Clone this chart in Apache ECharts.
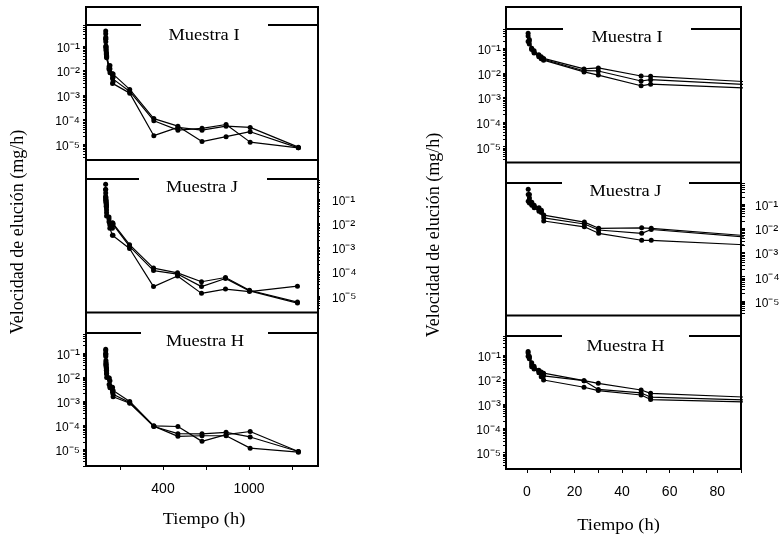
<!DOCTYPE html>
<html><head><meta charset="utf-8">
<script src="https://cdn.jsdelivr.net/npm/echarts@6/dist/echarts.min.js"></script>
<style>html,body{margin:0;padding:0;background:#fff}#c{width:784px;height:537px}</style>
</head><body><div id="c"></div>
<script>
// ---------- DATA ----------
const times = [0.5, 1, 2, 3, 5, 6, 7, 24, 30, 48, 52, 168, 336, 504, 672, 840, 1008, 1344];

const muestraI_1 = [0.41, 0.20, 0.10, 0.080, 0.055, 0.045, 0.039, 0.0145, 0.016, 0.0075, 0.0073, 1.7e-3, 1.1e-4, 5.4e-5, 1.26e-5, 2.0e-5, 3.2e-5, 7.0e-6];
const muestraI_2 = [0.32, 0.23, 0.095, 0.070, 0.050, 0.042, 0.036, 0.0123, 0.012, 0.0047, 0.0053, 1.4e-3, 9.0e-5, 3.7e-5, 4.4e-5, 6.3e-5, 1.2e-5, 7.0e-6];
const muestraI_3 = [0.19, 0.15, 0.090, 0.065, 0.045, 0.038, 0.033, 0.011, 0.0082, 0.0030, 0.0035, 1.2e-3, 2.2e-5, 4.8e-5, 3.7e-5, 5.4e-5, 4.8e-5, 7.5e-6];

const muestraJ_1 = [0.41, 0.25, 0.12, 0.090, 0.070, 0.055, 0.035, 0.018, 0.010, 0.0105, 0.010, 1.3e-3, 1.4e-4, 8.9e-5, 3.8e-5, 5.7e-5, 1.7e-5, 5.5e-6];
const muestraJ_2 = [0.25, 0.18, 0.10, 0.080, 0.060, 0.050, 0.027, 0.015, 0.0085, 0.0062, 0.0089, 1.1e-3, 1.1e-4, 7.9e-5, 2.4e-5, 5.2e-5, 1.6e-5, 5.0e-6];
const muestraJ_3 = [0.13, 0.11, 0.090, 0.070, 0.050, 0.045, 0.020, 0.0115, 0.0062, 0.0032, 0.0032, 9.0e-4, 2.4e-5, 6.6e-5, 1.26e-5, 1.9e-5, 1.5e-5, 2.5e-5];

const muestraH_1 = [0.14, 0.090, 0.048, 0.035, 0.024, 0.020, 0.018, 0.0089, 0.0069, 0.0037, 0.0027, 9.5e-4, 9.3e-5, 8.7e-5, 2.1e-5, 4.0e-5, 5.4e-5, 8.0e-6];
const muestraH_2 = [0.12, 0.080, 0.040, 0.030, 0.022, 0.018, 0.014, 0.0089, 0.0039, 0.0028, 0.0019, 8.5e-4, 8.7e-5, 4.4e-5, 4.3e-5, 5.0e-5, 3.2e-5, 8.0e-6];
const muestraH_3 = [0.090, 0.070, 0.033, 0.027, 0.019, 0.013, 0.0095, 0.0048, 0.0035, 0.0023, 0.0015, 8.0e-4, 9.0e-5, 3.4e-5, 3.6e-5, 3.6e-5, 1.1e-5, 7.5e-6];

const panelTitles = ['Muestra I', 'Muestra J', 'Muestra H'];
const yTickValues = [1e-5, 1e-4, 1e-3, 1e-2, 1e-1];
const leftXTicks = [100, 400, 700, 1000, 1300];
const leftXLabels = [400, 1000];
const rightXTicks = [0, 10, 20, 30, 40, 50, 60, 70, 80, 90];
const rightXLabels = [0, 20, 40, 60, 80];
const yAxisTitle = 'Velocidad de elución (mg/h)';
const xAxisTitle = 'Tiempo (h)';

// ---------- LAYOUT ----------
const SANS = "'Liberation Sans', Arial, sans-serif";
const SERIF = "'Liberation Serif', 'Times New Roman', serif";
const sampleSeries = [[muestraI_1, muestraI_2, muestraI_3], [muestraJ_1, muestraJ_2, muestraJ_3], [muestraH_1, muestraH_2, muestraH_3]];
const SUP = {'-': '\u207B', '0': '\u2070', '1': '\u00B9', '2': '\u00B2', '3': '\u00B3', '4': '\u2074', '5': '\u2075', '6': '\u2076'};
const supText = s => String(s).split('').map(ch => SUP[ch] || ch).join('');

const minorVals = [];
for (let k = -6; k <= 0; k++) for (let m = 2; m <= 9; m++) minorVals.push(m * Math.pow(10, k));

const cols = [
  {xMin: -137, xMax: 1481, xTicks: leftXTicks, xLabels: leftXLabels, x0: 86, x1: 318, yTop: 7, yBottom: 466, seps: [160, 312.5],
   tlines: [{y: 25, g: [141, 268]}, {y: 179, g: [139, 267]}, {y: 333, g: [141, 268]}],
   titles: [[204, 35.5], [202, 188], [205, 341.7]], yName: [18, 232], xName: [204, 520]},
  {xMin: -8.8, xMax: 90, xTicks: rightXTicks, xLabels: rightXLabels, x0: 506, x1: 741, yTop: 7, yBottom: 469, seps: [162.5, 315.5],
   tlines: [{y: 29, g: [563, 691]}, {y: 183, g: [562, 689]}, {y: 336, g: [562, 689]}],
   titles: [[627, 38], [625.5, 191.7], [625.5, 346.7]], yName: [434, 235], xName: [618.5, 526]}
];
const panels = [
  {col: 0, row: 0, left: 86, top: 25, width: 232, height: 135, eTop: -0.14, eBot: -5.65, side: 'left', margin: 6},
  {col: 0, row: 1, left: 86, top: 179, width: 231, height: 133, eTop: -0.17, eBot: -5.67, side: 'right', margin: 15},
  {col: 0, row: 2, left: 86, top: 333, width: 232, height: 133, eTop: -0.18, eBot: -5.70, side: 'left', margin: 6},
  {col: 1, row: 0, left: 506, top: 29, width: 235, height: 133, eTop: -0.215, eBot: -5.62, side: 'left', margin: 5},
  {col: 1, row: 1, left: 506, top: 183, width: 236, height: 132, eTop: -0.13, eBot: -5.58, side: 'right', margin: 13},
  {col: 1, row: 2, left: 506, top: 336, width: 235, height: 133, eTop: -0.22, eBot: -5.67, side: 'left', margin: 5}
];

const grids = [], xAxes = [], yAxes = [], series = [], graphics = [];
const black = '#000';
panels.forEach((p, i) => {
  const c = cols[p.col];
  const showX = p.row === 2;
  grids.push({left: p.left, top: p.top, width: p.width, height: p.height});
  xAxes.push({
    type: 'value', gridIndex: i, min: c.xMin, max: c.xMax, position: 'bottom',
    axisLine: {show: false, onZero: false}, splitLine: {show: false},
    axisTick: {show: showX, length: 4, customValues: c.xTicks, lineStyle: {color: black, width: 1}},
    axisLabel: {show: showX, customValues: c.xLabels, formatter: v => String(v), margin: 16, fontSize: 14, fontFamily: SANS, color: black}
  });
  const ymin = Math.pow(10, p.eBot), ymax = Math.pow(10, p.eTop);
  const tickVals = yTickValues.concat(minorVals.filter(v => v > ymin && v < ymax)).sort((a, b) => a - b);
  yAxes.push({
    type: 'log', logBase: 10, gridIndex: i, position: p.side, min: ymin, max: ymax,
    axisLine: {show: false, onZero: false}, splitLine: {show: false}, minorTick: {show: false},
    axisTick: {show: true, length: 3, customValues: tickVals, lineStyle: {color: black, width: 1}},
    axisLabel: {
      show: true, customValues: yTickValues, margin: p.margin, padding: [5, 0, 0, 0],
      formatter: v => '{b|10}{s|' + supText(Math.round(Math.log10(v))) + '}',
      rich: {
        b: {fontSize: 12, fontFamily: SANS, color: black},
        s: {fontSize: 15, fontFamily: SANS, color: black}
      }
    }
  });
  sampleSeries[p.row].forEach(vals => {
    series.push({
      type: 'line', xAxisIndex: i, yAxisIndex: i,
      data: times.map((t, k) => [t, vals[k]]),
      symbol: 'circle', symbolSize: 5, showSymbol: true, clip: true,
      lineStyle: {color: black, width: 1.2}, itemStyle: {color: black},
      silent: true, animation: false
    });
  });
});

cols.forEach(c => {
  graphics.push({type: 'rect', shape: {x: c.x0, y: c.yTop, width: c.x1 - c.x0, height: c.yBottom - c.yTop},
    style: {fill: 'none', stroke: black, lineWidth: 2}, z: 100});
  c.seps.forEach(y => graphics.push({type: 'line', shape: {x1: c.x0, y1: y, x2: c.x1, y2: y}, style: {stroke: black, lineWidth: 2}, z: 100}));
  c.tlines.forEach(t => {
    graphics.push({type: 'line', shape: {x1: c.x0, y1: t.y, x2: t.g[0], y2: t.y}, style: {stroke: black, lineWidth: 2}, z: 100});
    graphics.push({type: 'line', shape: {x1: t.g[1], y1: t.y, x2: c.x1, y2: t.y}, style: {stroke: black, lineWidth: 2}, z: 100});
  });
  c.titles.forEach((pos, r) => graphics.push({type: 'text', x: pos[0], y: pos[1], scaleX: 1.15, z: 100,
    style: {text: panelTitles[r], font: '16px ' + SERIF, fill: black, align: 'center', verticalAlign: 'middle', textAlign: 'center', textVerticalAlign: 'middle'}}));
  graphics.push({type: 'text', x: c.yName[0], y: c.yName[1], rotation: Math.PI / 2, z: 100,
    style: {text: yAxisTitle, font: '18px ' + SERIF, fill: black, align: 'center', verticalAlign: 'middle', textAlign: 'center', textVerticalAlign: 'middle'}});
  graphics.push({type: 'text', x: c.xName[0], y: c.xName[1], scaleX: 1.15, z: 100,
    style: {text: xAxisTitle, font: '16px ' + SERIF, fill: black, align: 'center', verticalAlign: 'middle', textAlign: 'center', textVerticalAlign: 'middle'}});
});

const chart = echarts.init(document.getElementById('c'), null, {renderer: 'canvas'});
chart.setOption({
  animation: false, backgroundColor: '#fff',
  grid: grids, xAxis: xAxes, yAxis: yAxes, series: series, graphic: graphics
});
</script></body></html>
